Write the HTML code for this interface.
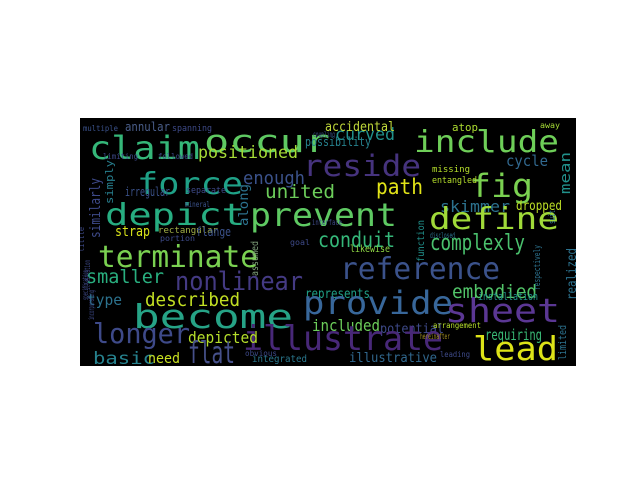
<!DOCTYPE html>
<html><head><meta charset="utf-8"><style>
html,body{margin:0;padding:0;background:#fff;width:640px;height:480px;overflow:hidden}
svg text{font-family:"DejaVu Sans Mono","Liberation Mono",monospace}
</style></head><body>
<svg id="cloud" width="640" height="480" viewBox="0 0 640 480" xmlns="http://www.w3.org/2000/svg">
<defs><clipPath id="clip"><rect x="80" y="118" width="496" height="248"/></clipPath></defs>
<rect x="80" y="118" width="496" height="248" fill="#000"/>
<g id="words" clip-path="url(#clip)"></g>
</svg>
<script>
// word, x, baseline y, width, font-size, color, rotated(1=vertical)
const words = ["claim","occur","include","reside","fig","force","enough","positioned","curved","accidental","atop","possibility","cycle","mean","united","path","skimmer","dropped","entangled","missing","prevent","define","depict","similarly","simply","along","strap","rectangular","flange","conduit","complexly","terminate","nonlinear","smaller","reference","realized","embodied","represents","likewise","described","type","become","provide","sheet","potential","included","installation","arrangement","limited","requiring","lead","illustrate","illustrative","leading","longer","depicted","flat","basic","need","integrated","obvious","function","assumed","annular","spanning","multiple","limiting","followed","coupling","irregular","separate","suit","respectively","hereinafter","portion","mineral","little","interface","away","goal","disclosed","specification","illustration","incorporating"];
const xs = [89,204,414,303,470,137,243,198,335,325,452,305,506,570,265,376,440,516,432,432,250,429,105,100,113,248,115,158,196,318,430,98,175,86,340,576,452,305,350,145,87,133,303,445,380,312,478,433,566,485,473,243,349,440,93,188,188,93,148,252,245,424,258,125,172,83,103,158,313,125,186,555,540,420,160,185,84,312,540,290,430,88,90,94];
const ys = [159,152,152,176,197,194,184,158,140,131,131,146,166,194,198,194,212,210,183,172,226,229,225,238,204,226,236,233,236,247,250,267,290,283,279,300,298,298,252,306,305,328,314,322,333,331,300,328,360,340,360,350,362,357,343,343,363,364,363,362,356,262,276,131,131,131,159,159,137,196,193,224,290,339,241,207,252,225,128,245,238,300,290,320];
const ws = [111,126,145,118,63,106,62,100,60,70,26,66,42,42,70,47,70,46,45,38,147,130,140,60,44,42,35,60,35,77,95,160,128,78,160,52,85,65,40,95,35,160,150,115,64,68,60,48,35,57,85,200,88,30,97,70,47,62,32,55,32,42,35,45,40,35,35,35,22,45,40,14,45,30,35,25,25,30,20,20,25,30,30,30];
const fss = [32,31,30,29,32,30,18,17,17,13,11,12,15,14,19,21,16,13,9,9,32,30,30,14,11,13,14,9,12,21,22,30,26,19,30,13,19,13,10,19,15,33,32,33,13,16,11,8,11,15,33,34,13,8,28,16,30,17,14,10,8,10,10,12,9,8,8,8,8,12,9,9,9,8,8,8,8,8,8,8,8,8,8,8];
const colors = ["#35b779","#5ec962","#6ece58","#46337e","#7ad151","#1fa187","#3b528b","#a5db36","#21918c","#c0d93a","#addc30","#26828e","#31688e","#21918c","#6ccd5a","#e2e418","#2c728e","#bddf26","#b5de2b","#b5de2b","#5ec962","#a0da39","#27ad81","#3e4a89","#277f8e","#2c728e","#d8e219","#a2b047","#3b528b","#35b779","#4ac16d","#7ad151","#443a83","#29af7f","#3b528b","#2c728e","#52c569","#1fa187","#8fd744","#c2df23","#2c728e","#26a386","#38679a","#5b3794","#3e4a89","#6ccd5a","#21918c","#b5de2b","#2c728e","#3aba76","#dde318","#482878","#31688e","#3e4a89","#3e4a89","#b5de2b","#46508a","#26828e","#c8e020","#2a788e","#3e4a89","#21918c","#7fa07a","#4a5e8a","#3e4a89","#3b528b","#3e4a89","#3e4a89","#3b528b","#3b528b","#3e4a89","#2c728e","#2c728e","#a08c20","#3e4a89","#3b528b","#3e4a89","#3e4a89","#a5db36","#3e4a89","#2c728e","#3e4a89","#3e4a89","#3e4a89"];
const rot = [0,0,0,0,0,0,0,0,0,0,0,0,0,1,0,0,0,0,0,0,0,0,0,1,1,1,0,0,0,0,0,0,0,0,0,1,0,0,0,0,0,0,0,0,0,0,0,0,1,0,0,0,0,0,0,0,0,0,0,0,0,1,1,0,0,0,0,0,0,0,0,1,1,0,0,0,1,0,0,0,0,1,1,1];

const g = document.getElementById('words');
const NS = 'http://www.w3.org/2000/svg';
for (let i = 0; i < words.length; i++) {
  const t = document.createElementNS(NS, 'text');
  
  
  t.setAttribute('x', xs[i]);
  t.setAttribute('y', ys[i]);
  t.setAttribute('font-size', fss[i]);
  t.setAttribute('fill', colors[i]);
  t.setAttribute('textLength', ws[i]);
  t.setAttribute('lengthAdjust', 'spacingAndGlyphs');
  if (rot[i]) t.setAttribute('transform', 'rotate(-90 ' + xs[i] + ' ' + ys[i] + ')');
  t.textContent = words[i];
  g.appendChild(t);
}
</script>
</body></html>
